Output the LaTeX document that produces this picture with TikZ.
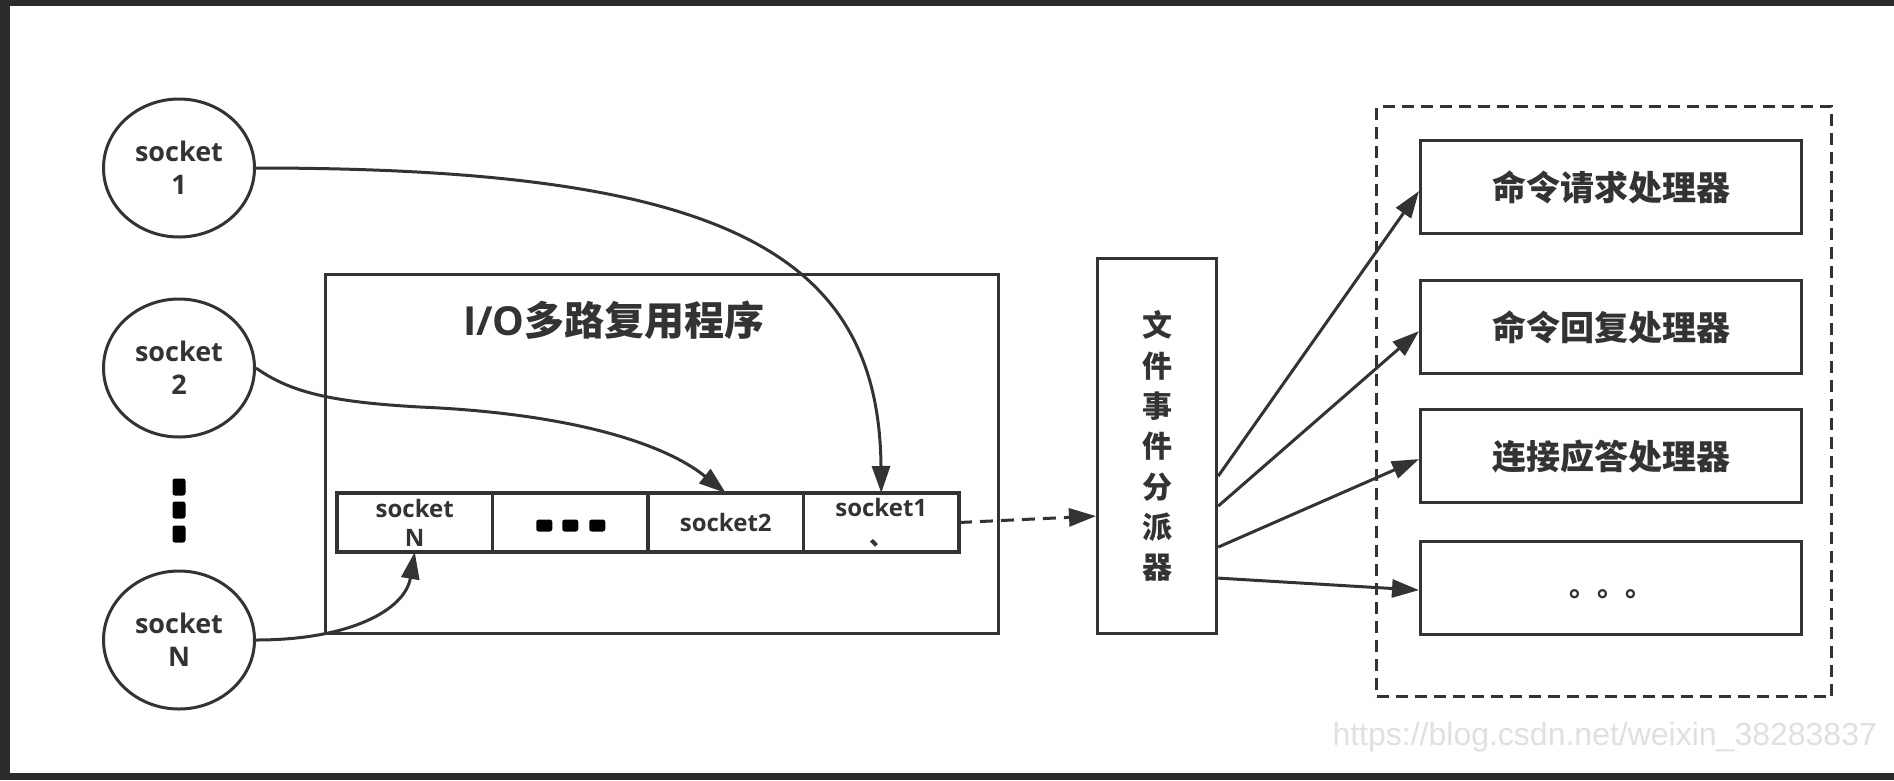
\documentclass[tikz,border=0pt]{standalone}
\usepackage{fontspec}
\setmainfont{Open Sans}
\newfontfamily\cjk{Noto Sans CJK SC}
\newfontfamily\wmfont{Liberation Sans}
\usetikzlibrary{arrows.meta,calc,shapes.geometric}
\definecolor{ink}{HTML}{333333}
\definecolor{framec}{HTML}{2B2B2B}
\definecolor{wmgray}{HTML}{E0E0E0}
\newcommand{\sockfont}{\fontsize{27pt}{33pt}\selectfont\bfseries}
\newcommand{\cellfont}{\fontsize{24pt}{29pt}\selectfont\bfseries}
\begin{document}
\begin{tikzpicture}[x=1pt,y=-1pt,
  sock/.style={ellipse, draw=ink, line width=3pt, minimum width=151pt, minimum height=138pt, inner sep=0pt, align=center, text=ink, font=\sockfont},
  box/.style={rectangle, draw=ink, line width=3.2pt, inner sep=0pt},
  cell/.style={rectangle, draw=ink, line width=3.2pt, inner sep=0pt, outer sep=0pt, minimum width=155.5pt, minimum height=59pt, align=center, text=ink, font=\cellfont, anchor=north west},
  hbox/.style={rectangle, draw=ink, line width=3.2pt, inner sep=0pt, minimum width=381pt, minimum height=93pt, anchor=north west, text=ink, font=\cjk\bfseries\fontsize{34pt}{34pt}\selectfont},
  blob/.style={rectangle, fill=black, rounded corners=2.5pt, inner sep=0pt},
  arr/.style={-{Triangle[length=27pt,width=18pt]}, line width=3pt, draw=ink},
]
\fill[framec] (0,0) rectangle (1894,780);
\fill[white] (10,6) rectangle (1894,773);
\useasboundingbox (0,0) rectangle (1894,780);

% sockets
\node[sock] (s1) at (179,168) {socket\\1};
\node[sock] (s2) at (179,368) {socket\\2};
\node[sock] (sN) at (179,640) {socket\\N};
\node[blob, minimum width=13pt, minimum height=17pt] (vd1) at (179,487) {};
\node[blob, minimum width=13pt, minimum height=17pt] (vd2) at (179,510) {};
\node[blob, minimum width=13pt, minimum height=17pt] (vd3) at (179,534) {};

% I/O multiplexer
\node[box, anchor=north west, minimum width=673pt, minimum height=359pt] (io) at (324,273) {};
\node[text=ink, font=\fontsize{40pt}{40pt}\selectfont\bfseries] (title) at (614,320) {I/O\cjk 多路复用程序};

\node[cell] (cN) at (337,493) {socket\\N};
\node[cell] (cd) at (cN.north east) {};
\node[cell] (c2) at (cd.north east) {socket2};
\node[cell] (c1) at (c2.north east) {socket1\\{\cjk 、}};
\node[blob, minimum width=16pt, minimum height=12pt] (hd1) at ($(cd.center)+(-26,3)$) {};
\node[blob, minimum width=16pt, minimum height=12pt] (hd2) at ($(cd.center)+(0,3)$) {};
\node[blob, minimum width=16pt, minimum height=12pt] (hd3) at ($(cd.center)+(27,3)$) {};

% dispatcher
\node[box, anchor=north west, minimum width=119pt, minimum height=375pt, align=center, text=ink,
  font=\cjk\bfseries\fontsize{30pt}{40.3pt}\selectfont] (disp) at (1096,257) {文\\件\\事\\件\\分\\派\\器};

% handlers
\node[box, dashed, dash pattern=on 12pt off 7pt, anchor=north west, minimum width=455pt, minimum height=590pt] (hall) at (1375,105) {};
\node[hbox] (h1) at (1419,139) {命令请求处理器};
\node[hbox] (h2) at (1419,279) {命令回复处理器};
\node[hbox] (h3) at (1419,408) {连接应答处理器};
\node[hbox] (h4) at (1419,540) {};
\node[text=ink, font=\cjk\bfseries\fontsize{28pt}{28pt}\selectfont] (h4t) at ([yshift=-6pt]h4.center) {。。。};

% connectors
\draw[arr] (s1.east) .. controls (720,168) and (879,250) .. (c1.north);
\draw[arr] (s2.east) .. controls (290,392) and (330,402) .. (420,407) .. controls (560,413) and (660,440) .. (c2.north);
\draw[arr] (sN.east) .. controls (350,640) and (405,610) .. (cN.south);
\draw[arr, dash pattern=on 13pt off 8pt] (c1.east) -- ([yshift=-70pt]disp.west);
\draw[arr] ([yshift=-30pt]disp.east) -- ([yshift=-4pt]h1.west);
\draw[arr] ([yshift=-60pt]disp.east) -- ([yshift=-4pt]h2.west);
\draw[arr] ([yshift=-101pt]disp.east) -- ([yshift=-3pt]h3.west);
\draw[arr] ([yshift=-132pt]disp.east) -- ([yshift=-2pt]h4.west);

\node[anchor=west, text=wmgray, font=\wmfont\fontsize{32pt}{32pt}\selectfont] (wmk) at (1329,737) {https://blog.csdn.net/weixin\_38283837};
\end{tikzpicture}
\end{document}
